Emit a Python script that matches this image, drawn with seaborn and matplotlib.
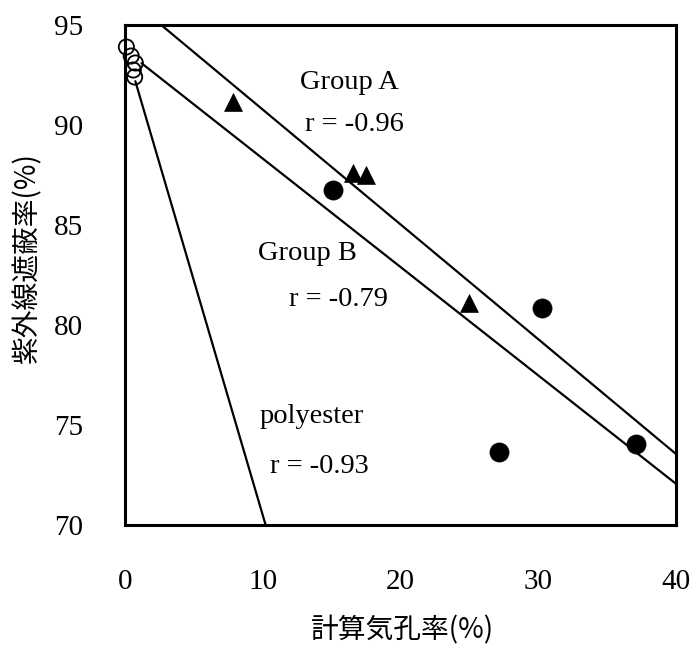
import numpy as np
import pandas as pd
import matplotlib
matplotlib.use("Agg")
import matplotlib.pyplot as plt
import seaborn as sns

# --- data -------------------------------------------------------------
# polyester (open circles)
poly_x = [0.1, 0.45, 0.75, 0.6, 0.7]
poly_y = [93.9, 93.45, 93.1, 92.75, 92.4]
# Group A (filled triangles)
groupA_x = [7.86, 16.57, 17.49, 24.96]
groupA_y = [91.17, 87.6, 87.5, 81.12]
# Group B (filled circles)
groupB_x = [15.12, 30.24, 27.16, 37.06]
groupB_y = [86.75, 80.87, 73.67, 74.03]

# regression lines: slope, intercept, x-span
fit_A = dict(slope=-0.574, intercept=96.51, x0=0.0, x1=40.0)
fit_B = dict(slope=-0.542, intercept=93.74, x0=1.2, x1=40.0)
fit_P = dict(slope=-2.346, intercept=93.95, x0=0.75, x1=12.0)

labels = ["Group A", "Group B", "polyester"]
r_values = [-0.96, -0.79, -0.93]

x_ticks = [0, 10, 20, 30, 40]
y_ticks = [70, 75, 80, 85, 90, 95]
x_label = "計算気孔率(%)"
y_label = "紫外線遮蔽率(%)"

# --- style ------------------------------------------------------------
sns.set_theme(style="white")
plt.rcParams["font.family"] = ["Liberation Serif", "DejaVu Serif"]
cjk = ["Noto Sans CJK JP", "DejaVu Sans"]

fig = plt.figure(figsize=(6.9, 6.48), dpi=100)
ax = fig.add_axes([125 / 690, 1 - 525 / 648, 551 / 690, 500 / 648])

# regression lines
for fit in (fit_A, fit_B, fit_P):
    xs = np.array([fit["x0"], fit["x1"]])
    ys = fit["slope"] * xs + fit["intercept"]
    sns.lineplot(x=xs, y=ys, ax=ax, color="black", linewidth=1.6,
                 estimator=None, sort=False)

# points
sns.scatterplot(x=groupA_x, y=groupA_y, ax=ax, marker="^", s=165,
                color="black", edgecolor="black", linewidth=0.5, zorder=3)
sns.scatterplot(x=groupB_x, y=groupB_y, ax=ax, marker="o", s=190,
                color="black", edgecolor="black", linewidth=0.5, zorder=3)
ax.scatter(poly_x, poly_y, marker="o", s=120, facecolors="none",
           edgecolors="black", linewidths=1.3, zorder=3, clip_on=False)

# annotations
txt = dict(ha="center", va="baseline", fontsize=20.5, color="black")
ax.text(16.3, 91.8, labels[0], **txt)
ax.text(16.69, 89.7, f"r = {r_values[0]:.2f}", **txt)
ax.text(13.28, 83.25, labels[1], **txt)
ax.text(15.53, 80.95, f"r = {r_values[1]:.2f}", **txt)
ax.text(13.55, 75.08, labels[2], **txt)
ax.text(14.08, 72.58, f"r = {r_values[2]:.2f}", **txt)

# axes
ax.set_xlim(0, 40)
ax.set_ylim(70, 95)
ax.set_xticks(x_ticks)
ax.set_yticks(y_ticks)
ax.tick_params(direction="in", length=8, width=2, color="black",
               labelsize=21, labelcolor="black")
ax.tick_params(axis="x", pad=32)
ax.tick_params(axis="y", pad=30)
for sp in ax.spines.values():
    sp.set_visible(True)
    sp.set_color("black")
    sp.set_linewidth(2.2)

ax.set_xlabel(x_label, fontsize=20, family=cjk, color="black")
ax.set_ylabel(y_label, fontsize=20, family=cjk, color="black")
ax.xaxis.set_label_coords((403 - 125) / 551, -(615 - 525) / 500)
ax.yaxis.set_label_coords(-(125 - 42) / 551, (525 - 258) / 500)

fig.savefig("out.png", dpi=100, facecolor="white")
